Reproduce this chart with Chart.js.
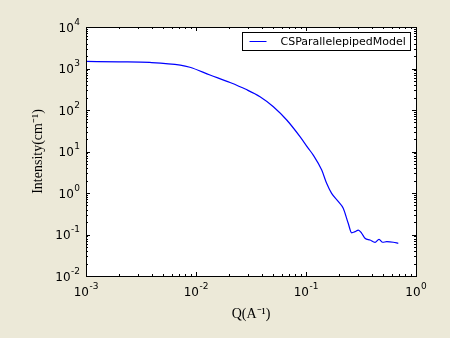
<!DOCTYPE html>
<html>
<head>
<meta charset="utf-8">
<script src="https://cdn.jsdelivr.net/npm/chart.js@4.4.0/dist/chart.umd.min.js"></script>
<style>
    html, body { margin: 0; padding: 0; background: #ece9d8; }
    canvas { display: block; }
</style>
</head>
<body>
<canvas id="sasChart" width="450" height="338"></canvas>
<script>
// 数据
const qValues = [0.001, 0.002, 0.0038, 0.0072, 0.0088, 0.0134, 0.0204, 0.0284, 0.0382, 0.0505,
    0.0668, 0.0882, 0.105, 0.1164, 0.139, 0.154, 0.171, 0.197, 0.218, 0.242,
    0.26, 0.279, 0.299, 0.321, 0.344, 0.382, 0.424, 0.461, 0.498, 0.542, 0.622, 0.69];
const intensity = [1480, 1450, 1400, 1210, 1070, 697, 460, 315, 209, 120,
    57.4, 22.8, 11.9, 8.2, 3.58, 1.71, 0.98, 0.62, 0.43, 0.186,
    0.110, 0.117, 0.128, 0.107, 0.081, 0.0736, 0.0648, 0.0766, 0.065, 0.067, 0.065, 0.0614];
const xTicks = [0.001, 0.01, 0.1, 1];
const yTicks = [0.01, 0.1, 1, 10, 100, 1000, 10000];
const seriesLabel = 'CSParallelepipedModel';

// 画 10^n 形式的刻度标签
function drawPow(ctx, v, x, y, align) {
    const e = String(Math.round(Math.log10(v)));
    ctx.font = '12px "DejaVu Sans"';
    const wBase = ctx.measureText('10').width;
    ctx.font = '9px "DejaVu Sans"';
    const wExp = ctx.measureText(e).width;
    const w = wBase + wExp + 0.5;
    const left = align === 'center' ? x - w / 2 : x - w;
    ctx.font = '12px "DejaVu Sans"';
    ctx.fillText('10', left, y);
    ctx.font = '9px "DejaVu Sans"';
    ctx.fillText(e, left + wBase + 0.5, y - 7);
}

// 背景、边框、内侧刻度、刻度标签、图例
const framePlugin = {
    id: 'frame',
    beforeDraw(chart) {
        const { ctx, chartArea: a } = chart;
        ctx.save();
        ctx.fillStyle = '#ece9d8';
        ctx.fillRect(0, 0, chart.width, chart.height);
        ctx.fillStyle = '#ffffff';
        ctx.fillRect(a.left, a.top, a.right - a.left, a.bottom - a.top);
        ctx.restore();
    },
    afterDraw(chart) {
        const { ctx, chartArea: a } = chart;
        const xs = chart.scales.x, ys = chart.scales.y;
        ctx.save();
        ctx.strokeStyle = '#000';
        ctx.lineWidth = 1;
        ctx.beginPath();
        xTicks.forEach((d, i) => {
            const last = i === xTicks.length - 1;
            for (let m = 1; m <= (last ? 1 : 9); m++) {
                const px = Math.round(xs.getPixelForValue(d * m)) + 0.5;
                const len = m === 1 ? 4 : 2;
                ctx.moveTo(px, a.bottom); ctx.lineTo(px, a.bottom - len);
                ctx.moveTo(px, a.top); ctx.lineTo(px, a.top + len);
            }
        });
        yTicks.forEach((d, i) => {
            const last = i === yTicks.length - 1;
            for (let m = 1; m <= (last ? 1 : 9); m++) {
                const py = Math.round(ys.getPixelForValue(d * m)) + 0.5;
                const len = m === 1 ? 4 : 2;
                ctx.moveTo(a.left, py); ctx.lineTo(a.left + len, py);
                ctx.moveTo(a.right, py); ctx.lineTo(a.right - len, py);
            }
        });
        ctx.stroke();
        ctx.strokeRect(Math.round(a.left) + 0.5, Math.round(a.top) + 0.5,
            Math.round(a.right - a.left), Math.round(a.bottom - a.top));

        // 刻度标签
        ctx.fillStyle = '#000';
        ctx.textBaseline = 'alphabetic';
        ctx.textAlign = 'left';
        xTicks.forEach(v => drawPow(ctx, v, xs.getPixelForValue(v), a.bottom + 20, 'center'));
        yTicks.forEach(v => drawPow(ctx, v, a.left - 6, ys.getPixelForValue(v) + 4.5, 'right'));

        // 图例
        const ds = chart.data.datasets[0];
        const bw = 168, bh = 18;
        const bx = Math.round(a.right - 6 - bw) + 0.5, by = Math.round(a.top + 5) + 0.5;
        ctx.fillStyle = '#ffffff';
        ctx.fillRect(bx, by, bw, bh);
        ctx.strokeRect(bx, by, bw, bh);
        ctx.strokeStyle = ds.borderColor;
        ctx.beginPath();
        ctx.moveTo(bx + 7, by + 9);
        ctx.lineTo(bx + 24, by + 9);
        ctx.stroke();
        ctx.fillStyle = '#000';
        ctx.font = '11px "DejaVu Sans"';
        ctx.textBaseline = 'middle';
        ctx.fillText(ds.label, bx + 38, by + 9.5);
        ctx.restore();
    }
};

const ctx = document.getElementById('sasChart');
new Chart(ctx.getContext('2d'), {
    type: 'line',
    data: {
        datasets: [{
            label: seriesLabel,
            data: qValues.map((q, i) => ({ x: q, y: intensity[i] })),
            borderColor: '#0000ff',
            borderWidth: 1.2,
            pointRadius: 0,
            fill: false,
            cubicInterpolationMode: 'monotone'
        }]
    },
    options: {
        responsive: false,
        animation: false,
        layout: { padding: { left: 30, right: 34, top: 27, bottom: 15 } },
        plugins: {
            legend: { display: false },
            tooltip: { enabled: false }
        },
        scales: {
            x: {
                type: 'logarithmic',
                min: 0.001,
                max: 1,
                afterBuildTicks: s => { s.ticks = xTicks.map(v => ({ value: v })); },
                afterFit: s => { s.height = 47; },
                grid: { display: false },
                border: { display: false },
                ticks: { display: false },
                title: {
                    display: true,
                    text: 'Q(A\u207B\u00B9)',
                    color: '#000',
                    padding: 0,
                    font: { family: 'Liberation Serif', size: 14 }
                }
            },
            y: {
                type: 'logarithmic',
                min: 0.01,
                max: 10000,
                afterBuildTicks: s => { s.ticks = yTicks.map(v => ({ value: v })); },
                afterFit: s => { s.width = 56; },
                grid: { display: false },
                border: { display: false },
                ticks: { display: false },
                title: {
                    display: true,
                    text: 'Intensity(cm\u207B\u00B9)',
                    color: '#000',
                    padding: 0,
                    font: { family: 'Liberation Serif', size: 14 }
                }
            }
        }
    },
    plugins: [framePlugin]
});
</script>
</body>
</html>
